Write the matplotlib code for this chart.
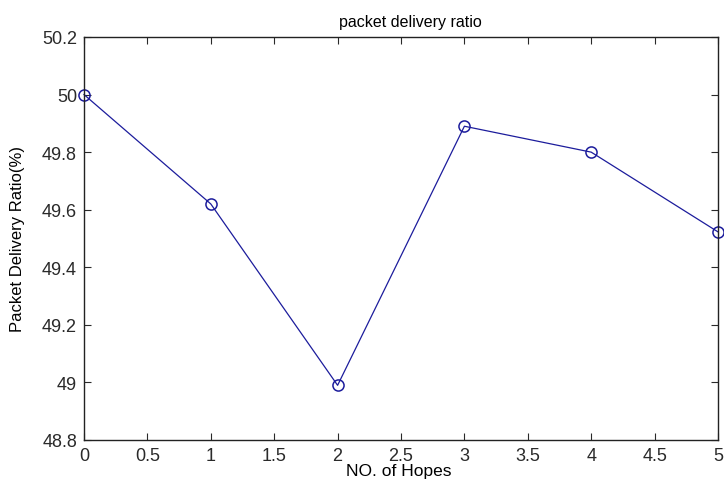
import matplotlib
matplotlib.use("Agg")
import matplotlib.pyplot as plt

hops = [0, 1, 2, 3, 4, 5]
pdr = [50.0, 49.62, 48.99, 49.89, 49.80, 49.523]
xticks = [0, 0.5, 1, 1.5, 2, 2.5, 3, 3.5, 4, 4.5, 5]
yticks = [48.8, 49.0, 49.2, 49.4, 49.6, 49.8, 50.0, 50.2]
ytick_labels = ["48.8", "49", "49.2", "49.4", "49.6", "49.8", "50", "50.2"]
xtick_labels = ["0", "0.5", "1", "1.5", "2", "2.5", "3", "3.5", "4", "4.5", "5"]

plt.rcParams['font.family'] = ['Liberation Sans', 'DejaVu Sans']

fig = plt.figure(figsize=(7.24, 4.81), dpi=100)
ax = fig.add_axes([84/724, 40/481, (718-84)/724, (441-38)/481])
ax.plot(hops, pdr, color='#1c1c9c', linewidth=0.9, marker='o', markersize=8,
        markerfacecolor='none', markeredgecolor='#1c1c9c', markeredgewidth=1.1,
        clip_on=False)
ax.set_xlim(0, 5)
ax.set_ylim(48.8, 50.2)
ax.set_xticks(xticks)
ax.set_xticklabels(xtick_labels)
ax.set_yticks(yticks)
ax.set_yticklabels(ytick_labels)
ax.tick_params(direction='in', top=True, right=True, length=5, width=0.8,
               labelsize=13, pad=5, colors='#2a2a2a')
for s in ax.spines.values():
    s.set_linewidth(1.0)
    s.set_color('#222222')
ax.set_title("packet delivery ratio", fontsize=11.5, pad=8, x=0.514)
ax.set_xlabel("NO. of Hopes", fontsize=12.5, va='top')
ax.xaxis.set_label_coords(0.497, -0.056)
ax.set_ylabel("Packet Delivery Ratio(%)", fontsize=12)
ax.yaxis.set_label_coords(-0.093, 0.5)
fig.savefig("out.png", dpi=100)
